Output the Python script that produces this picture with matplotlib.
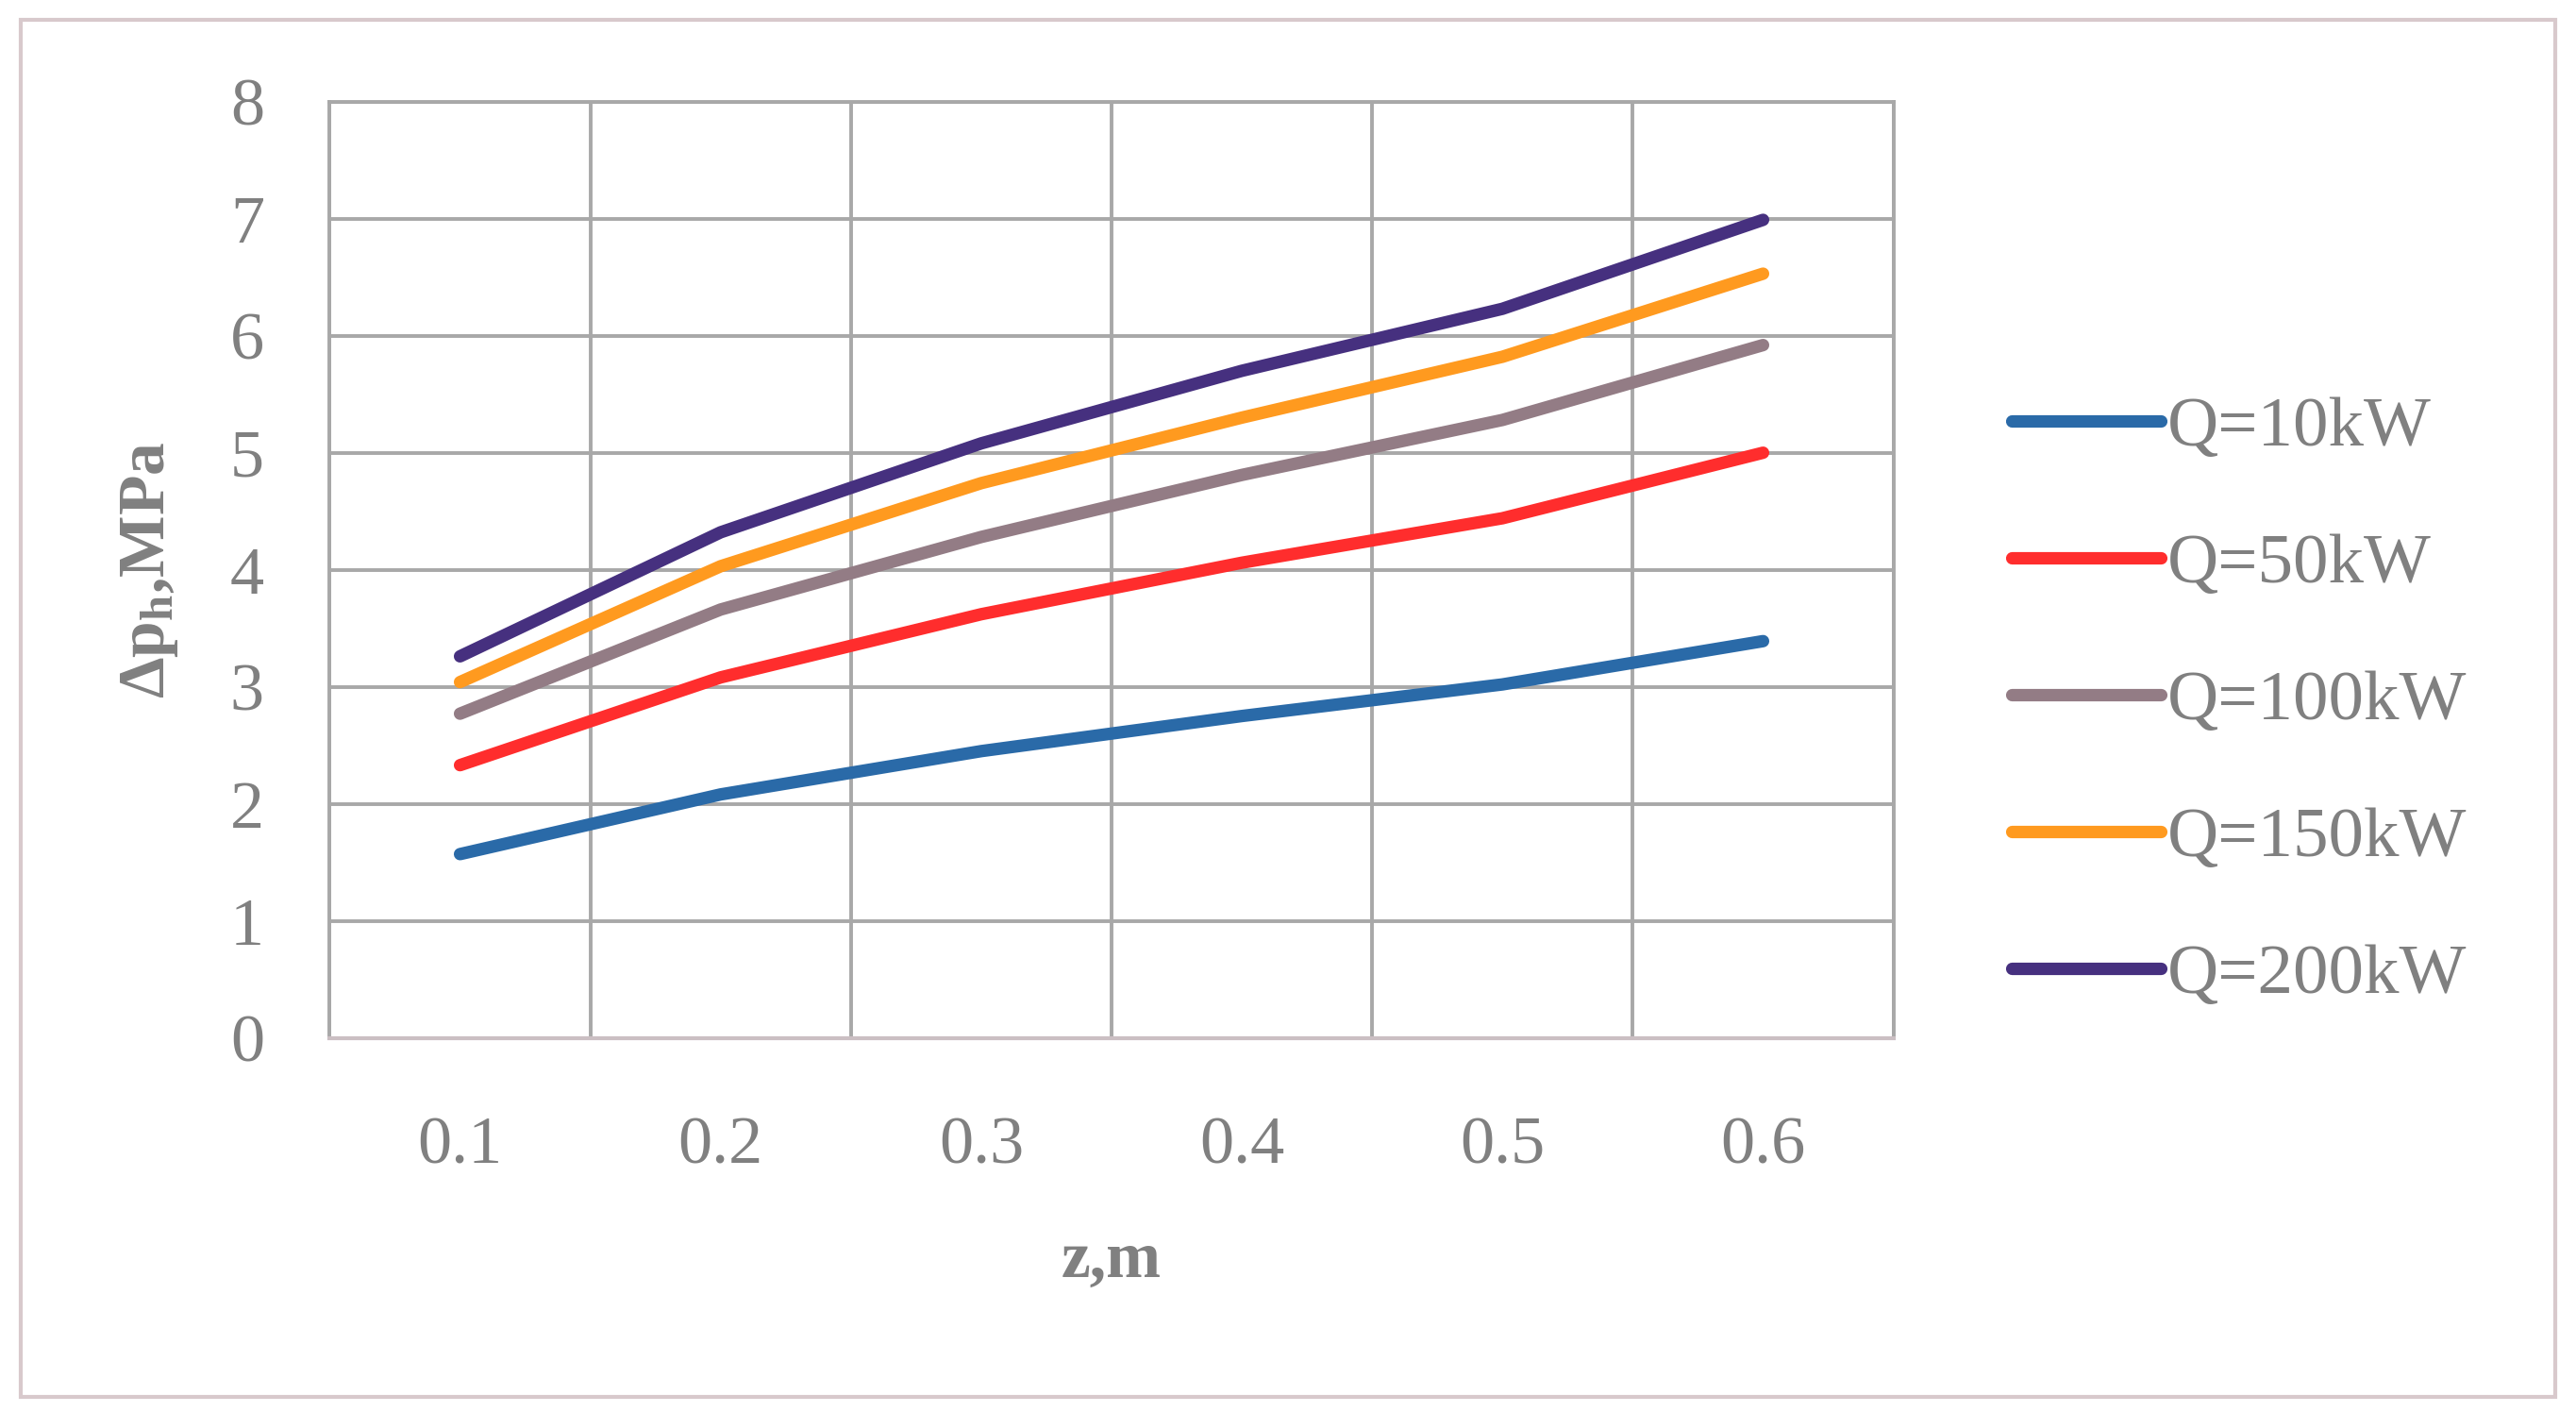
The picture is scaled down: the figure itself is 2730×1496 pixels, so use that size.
import matplotlib.pyplot as plt
from matplotlib.patches import Rectangle

plt.rcParams['font.family'] = ['Liberation Serif', 'DejaVu Serif']
plt.rcParams['mathtext.fontset'] = 'custom'
plt.rcParams['mathtext.rm'] = 'Liberation Serif'
plt.rcParams['mathtext.bf'] = 'Liberation Serif:bold'
plt.rcParams['mathtext.it'] = 'Liberation Serif:italic'

z_labels = ['0.1', '0.2', '0.3', '0.4', '0.5', '0.6']
q10 = [1.57, 2.08, 2.45, 2.75, 3.02, 3.39]
q50 = [2.33, 3.08, 3.62, 4.06, 4.44, 5.00]
q100 = [2.77, 3.66, 4.28, 4.81, 5.28, 5.92]
q150 = [3.04, 4.03, 4.74, 5.30, 5.82, 6.53]
q200 = [3.26, 4.32, 5.08, 5.70, 6.23, 6.99]

series = [q10, q50, q100, q150, q200]
names = ['Q=10kW', 'Q=50kW', 'Q=100kW', 'Q=150kW', 'Q=200kW']
colors = ['#2a6aa8', '#ff2d2d', '#937c85', '#ff9a1f', '#46307f']

txt = '#808080'
grid_c = '#a8a8a8'

fig = plt.figure(figsize=(27.3, 14.96), dpi=100)
ax = fig.add_axes([0.128, 0.265, 0.607, 0.663])

xs = [i + 0.5 for i in range(len(z_labels))]
for vals, name, c in zip(series, names, colors):
    ax.plot(xs, vals, color=c, lw=9.5, label=name, solid_capstyle='round')

ax.set_xlim(0, len(z_labels))
ax.set_ylim(0, 8)
ax.set_xticks(xs)
ax.set_xticklabels(z_labels)
ax.set_yticks(range(0, 9))
ax.set_xticks([i * 0.5 for i in range(13)], minor=True)
ax.grid(True, which='minor', axis='x', color=grid_c, lw=2.8)
ax.grid(True, which='major', axis='y', color=grid_c, lw=2.8)
ax.set_axisbelow(True)
ax.tick_params(which='both', length=0)
ax.tick_params(axis='y', pad=50, labelsize=52, labelcolor=txt)
ax.tick_params(axis='x', pad=60, labelsize=52, labelcolor=txt)
for s in ['left', 'top', 'right']:
    ax.spines[s].set_color(grid_c)
    ax.spines[s].set_linewidth(2.8)
ax.spines['bottom'].set_color('#cbbfc3')
ax.spines['bottom'].set_linewidth(3)

ax.set_xlabel('z,m', fontsize=50, fontweight='bold', color=txt, labelpad=40)
ax.set_ylabel(r'$\mathbf{\Delta p_h}$,MPa', fontsize=50, fontweight='bold',
              color=txt, labelpad=38)

leg = fig.legend(loc='center left', bbox_to_anchor=(0.781, 0.503), frameon=False,
                 borderpad=0, borderaxespad=0, fontsize=54, handlelength=2.1,
                 handletextpad=0.1, labelspacing=1.02)
for t in leg.get_texts():
    t.set_color(txt)

fig.patches.append(Rectangle((0.008, 0.011), 0.984, 0.975, transform=fig.transFigure,
                             fill=False, edgecolor='#d8c9cc', lw=3))

fig.savefig('out.png', dpi=100, facecolor='white')
